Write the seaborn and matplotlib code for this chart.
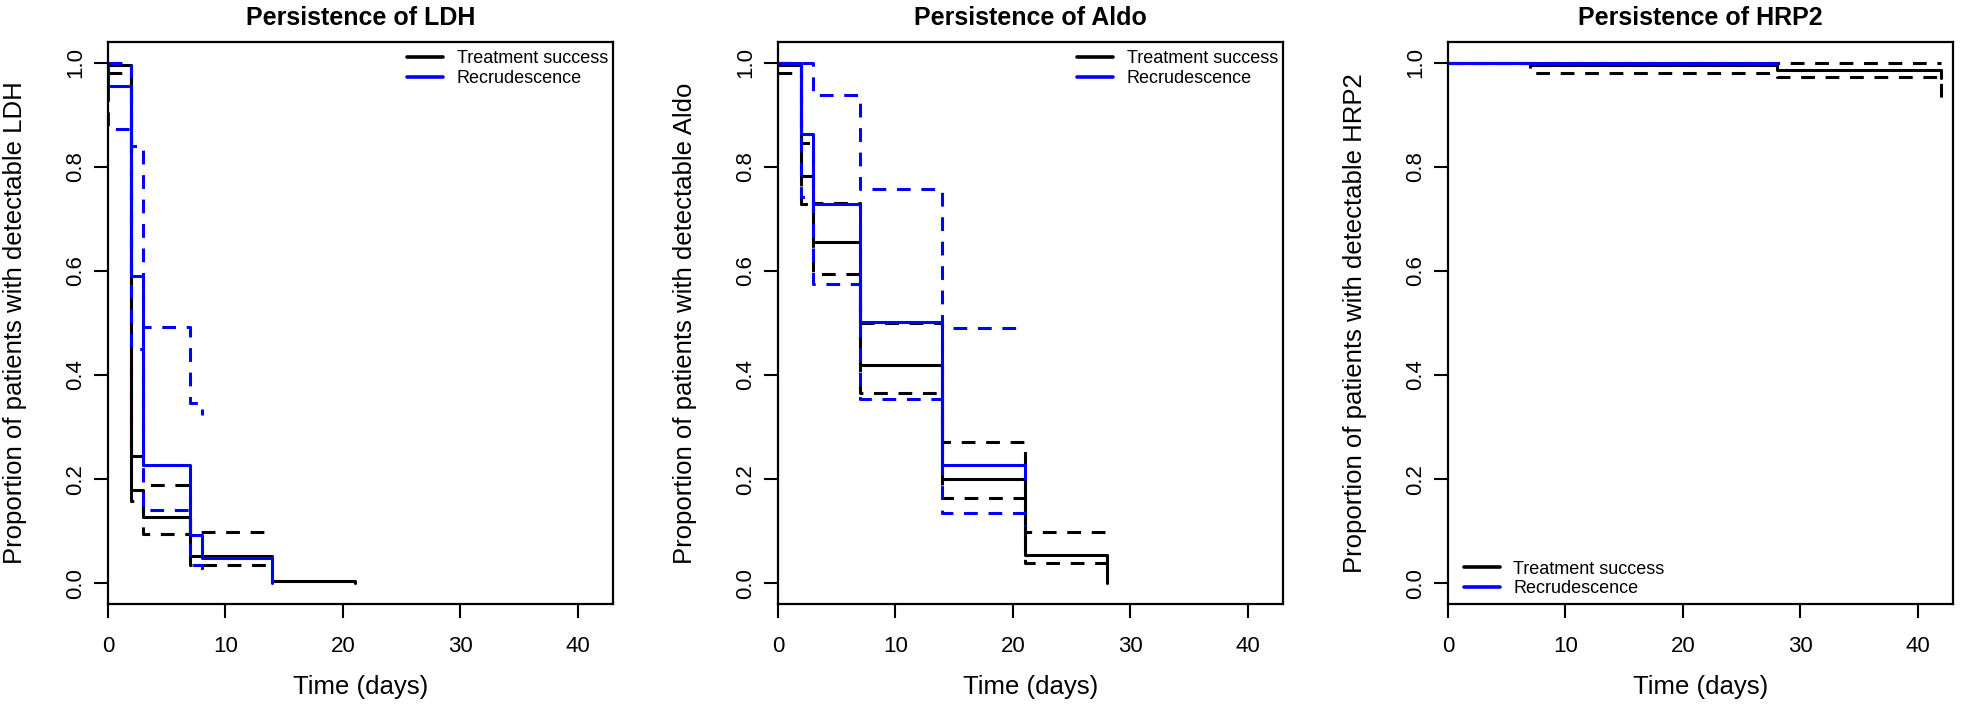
import numpy as np
import pandas as pd
import matplotlib
matplotlib.use("Agg")
import matplotlib.pyplot as plt
from matplotlib.lines import Line2D
import seaborn as sns

sns.set_style("ticks")
plt.rcParams["font.family"] = ["Liberation Sans", "DejaVu Sans"]
for key in ["text.color", "axes.labelcolor", "xtick.color", "ytick.color", "axes.edgecolor"]:
    plt.rcParams[key] = "black"

groups = ["Treatment success", "Recrudescence"]
group_colors = ["black", "blue"]

# LDH
ldh_ts_time = [0, 2, 3, 7, 14, 21]
ldh_ts_surv = [0.995, 0.179, 0.127, 0.052, 0.005, 0.0]
ldh_ts_ci_time = [0, 2, 3, 7, 14]
ldh_ts_upper = [1.0, 0.245, 0.188, 0.099, 0.099]
ldh_ts_lower = [0.981, 0.158, 0.094, 0.035, 0.035]
ldh_re_time = [0, 0, 2, 3, 7, 8, 14]
ldh_re_surv = [1.0, 0.955, 0.59, 0.228, 0.092, 0.048, 0.0]
ldh_re_up_time = [0, 2, 3, 7, 8]
ldh_re_upper = [1.0, 0.84, 0.492, 0.346, 0.324]
ldh_re_lo_time = [0, 0, 2, 3, 7, 8]
ldh_re_lower = [1.0, 0.872, 0.45, 0.141, 0.035, 0.012]

# Aldo
aldo_ts_time = [0, 2, 3, 7, 14, 21, 28]
aldo_ts_surv = [0.995, 0.782, 0.655, 0.42, 0.201, 0.054, 0.0]
aldo_ts_upper = [1.0, 0.846, 0.73, 0.5, 0.271, 0.098, 0.098]
aldo_ts_lower = [0.981, 0.728, 0.594, 0.365, 0.164, 0.038, 0.038]
aldo_re_time = [0, 2, 3, 7, 14, 21]
aldo_re_surv = [1.0, 0.863, 0.729, 0.501, 0.228, 0.2]
aldo_re_up_time = [0, 3, 7, 14, 21]
aldo_re_upper = [1.0, 0.939, 0.758, 0.491, 0.491]
aldo_re_lower = [1.0, 0.742, 0.575, 0.354, 0.135, 0.11]

# HRP2
hrp2_ts_time = [0, 7, 28, 42]
hrp2_ts_surv = [1.0, 0.995, 0.986, 0.97]
hrp2_ts_up_time = [0, 42]
hrp2_ts_upper = [1.0, 1.0]
hrp2_ts_lower = [1.0, 0.981, 0.973, 0.918]
hrp2_re_time = [0, 28]
hrp2_re_surv = [1.0, 1.0]

panels = [
    {"name": "LDH", "legend": "upper right",
     "series": [
         (ldh_ts_ci_time, ldh_ts_upper, 0, True),
         (ldh_ts_ci_time, ldh_ts_lower, 0, True),
         (ldh_ts_time, ldh_ts_surv, 0, False),
         (ldh_re_up_time, ldh_re_upper, 1, True),
         (ldh_re_lo_time, ldh_re_lower, 1, True),
         (ldh_re_time, ldh_re_surv, 1, False)]},
    {"name": "Aldo", "legend": "upper right",
     "series": [
         (aldo_ts_time, aldo_ts_upper, 0, True),
         (aldo_ts_time, aldo_ts_lower, 0, True),
         (aldo_ts_time, aldo_ts_surv, 0, False),
         (aldo_re_up_time, aldo_re_upper, 1, True),
         (aldo_re_time, aldo_re_lower, 1, True),
         (aldo_re_time, aldo_re_surv, 1, False)]},
    {"name": "HRP2", "legend": "lower left",
     "series": [
         (hrp2_ts_up_time, hrp2_ts_upper, 0, True),
         (hrp2_ts_time, hrp2_ts_lower, 0, True),
         (hrp2_ts_time, hrp2_ts_surv, 0, False),
         (hrp2_re_time, hrp2_re_surv, 1, False)]},
]

fig = plt.figure(figsize=(19.61, 7.06), dpi=100)
lefts = [108, 778, 1448]
ax_w = 505 / 1961
ax_b = 1 - 604 / 706
ax_h = (604 - 42) / 706

for left, p in zip(lefts, panels):
    ax = fig.add_axes([left / 1961, ax_b, ax_w, ax_h])
    for t, s, g, dashed in p["series"]:
        df = pd.DataFrame({"time": t, "surv": s})
        ls = (0, (4.5, 3.5)) if dashed else "-"
        sns.lineplot(data=df, x="time", y="surv", ax=ax, color=group_colors[g],
                     linestyle=ls, lw=2.2, drawstyle="steps-post",
                     estimator=None, sort=False, legend=False)
    ax.set_xlim(0, 43)
    ax.set_ylim(-0.04, 1.04)
    ax.set_xticks([0, 10, 20, 30, 40])
    ax.set_yticks([0, 0.2, 0.4, 0.6, 0.8, 1.0])
    ax.set_yticklabels(["0.0", "0.2", "0.4", "0.6", "0.8", "1.0"], rotation=90, va="center")
    ax.tick_params(axis="both", labelsize=16, length=10, width=1.5, colors="black")
    ax.tick_params(axis="x", pad=13)
    ax.tick_params(axis="y", pad=6)
    for sp in ax.spines.values():
        sp.set_visible(True)
        sp.set_linewidth(1.6)
        sp.set_color("black")
    ax.set_title("Persistence of " + p["name"], fontsize=18, fontweight="bold", pad=12)
    ax.set_xlabel("Time (days)", fontsize=18.5)
    ax.set_ylabel("Proportion of patients with detectable " + p["name"], fontsize=18.5)
    ax.xaxis.set_label_coords(0.5, -0.127)
    ax.yaxis.set_label_coords(-0.16, 0.5)

    handles = [Line2D([], [], color=c, lw=2.6) for c in group_colors]
    if p["legend"] == "upper right":
        ax.legend(handles, groups, loc="upper right", bbox_to_anchor=(0.99, 0.985),
                  frameon=False, fontsize=13, handlelength=2.0, handletextpad=0.75,
                  labelspacing=0.15, borderpad=0, borderaxespad=0)
    else:
        ax.legend(handles, groups, loc="lower left", bbox_to_anchor=(0.031, 0.012),
                  frameon=False, fontsize=13, handlelength=2.0, handletextpad=0.75,
                  labelspacing=0.15, borderpad=0, borderaxespad=0)

fig.savefig("out.png", dpi=100)
